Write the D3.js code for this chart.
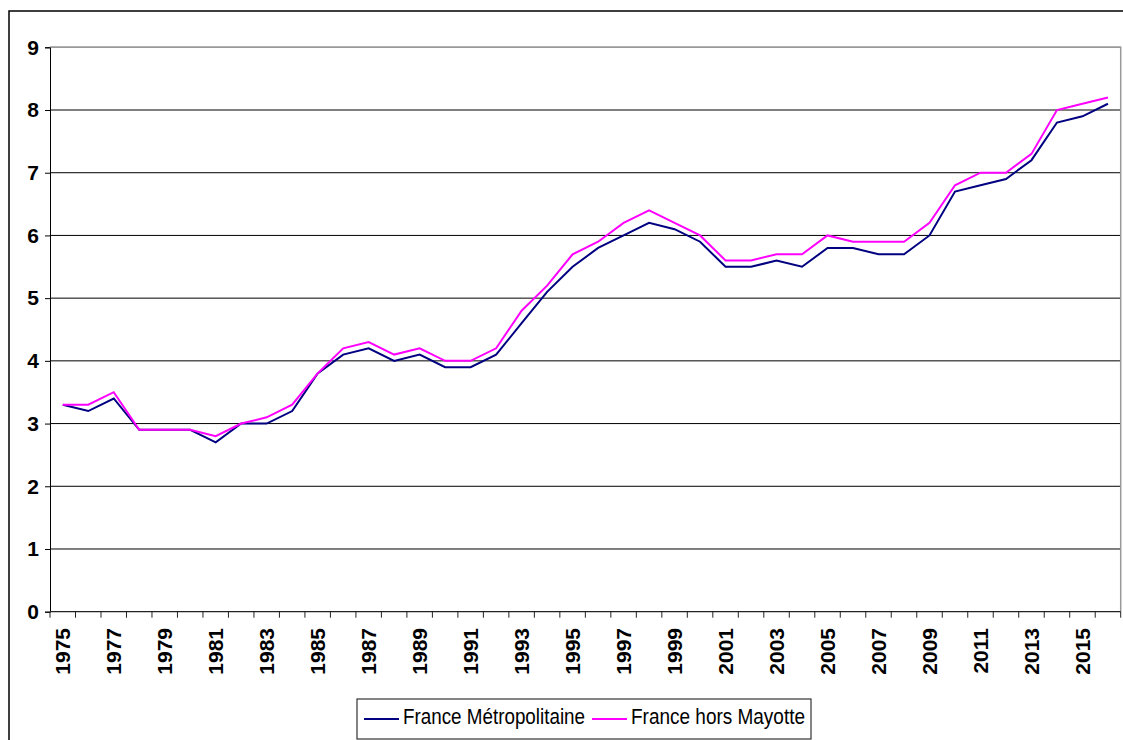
<!DOCTYPE html>
<html>
<head>
<meta charset="utf-8">
<script src="https://d3js.org/d3.v7.min.js"></script>
<style>
  body { margin: 0; background: #fff; }
  text { font-family: "Liberation Sans", Arial, sans-serif; }
</style>
</head>
<body>
<div id="vis-container"></div>
<script>
// data
const years = d3.range(1975, 2017);
const metropole = [3.3, 3.2, 3.4, 2.9, 2.9, 2.9, 2.7, 3.0, 3.0, 3.2,
                   3.8, 4.1, 4.2, 4.0, 4.1, 3.9, 3.9, 4.1, 4.6, 5.1,
                   5.5, 5.8, 6.0, 6.2, 6.1, 5.9, 5.5, 5.5, 5.6, 5.5,
                   5.8, 5.8, 5.7, 5.7, 6.0, 6.7, 6.8, 6.9, 7.2, 7.8,
                   7.9, 8.1];
const horsMayotte = [3.3, 3.3, 3.5, 2.9, 2.9, 2.9, 2.8, 3.0, 3.1, 3.3,
                     3.8, 4.2, 4.3, 4.1, 4.2, 4.0, 4.0, 4.2, 4.8, 5.2,
                     5.7, 5.9, 6.2, 6.4, 6.2, 6.0, 5.6, 5.6, 5.7, 5.7,
                     6.0, 5.9, 5.9, 5.9, 6.2, 6.8, 7.0, 7.0, 7.3, 8.0,
                     8.1, 8.2];
const yTicks = [0, 1, 2, 3, 4, 5, 6, 7, 8, 9];
const seriesNames = ["France Métropolitaine", "France hors Mayotte"];
const seriesColors = ["#000080", "#ff00ff"];

// Set dimensions
const width = 1123;
const height = 740;
const plot = { left: 50, right: 1120.7, top: 47.3, bottom: 611.7 };

const svg = d3.select("#vis-container")
              .append("svg")
              .attr("width", width)
              .attr("height", height);

// outer chart border (runs off the right and bottom of the picture)
svg.append("rect")
   .attr("x", 9).attr("y", 11)
   .attr("width", 1130).attr("height", 740)
   .attr("fill", "none")
   .attr("stroke", "#000")
   .attr("stroke-width", 1.5);

// scales
const x = d3.scaleBand()
            .domain(years)
            .range([plot.left, plot.right]);

const y = d3.scaleLinear()
            .domain([0, 9])
            .range([plot.bottom, plot.top]);

// gridlines
svg.append("g")
   .selectAll("line")
   .data(yTicks.slice(1))
   .join("line")
     .attr("x1", plot.left)
     .attr("x2", plot.right)
     .attr("y1", d => y(d))
     .attr("y2", d => y(d))
     .attr("stroke", "#000")
     .attr("stroke-width", 1);

// plot area border top + right (gray)
svg.append("path")
   .attr("d", `M${plot.left},${y(9)}H${plot.right}V${plot.bottom}`)
   .attr("fill", "none")
   .attr("stroke", "#999")
   .attr("stroke-width", 1.5);

// y axis
svg.append("g")
   .attr("transform", `translate(${plot.left},0)`)
   .call(d3.axisLeft(y).tickValues(yTicks).tickSize(5).tickPadding(6))
   .call(g => g.select(".domain").attr("stroke", "#000"))
   .call(g => g.selectAll("text")
               .attr("font-family", "Liberation Sans, Arial, sans-serif")
               .attr("font-size", "21px")
               .attr("font-weight", "bold")
               .attr("fill", "#000"));

// x axis line and tick marks between categories
const boundaries = years.map(d => x(d)).concat([plot.right]);
svg.append("line")
   .attr("x1", plot.left).attr("x2", plot.right)
   .attr("y1", plot.bottom).attr("y2", plot.bottom)
   .attr("stroke", "#222")
   .attr("stroke-width", 1.2);

svg.append("g")
   .selectAll("line")
   .data(boundaries)
   .join("line")
     .attr("x1", d => d).attr("x2", d => d)
     .attr("y1", plot.bottom).attr("y2", plot.bottom + 6)
     .attr("stroke", "#222");

// x labels, every second year, rotated
svg.append("g")
   .selectAll("text")
   .data(years.filter((d, i) => i % 2 === 0))
   .join("text")
     .attr("transform", d => `translate(${x(d) + x.bandwidth() / 2},628) rotate(-90)`)
     .attr("dy", "0.36em")
     .attr("text-anchor", "end")
     .attr("font-size", "21px")
     .attr("font-weight", "bold")
     .text(d => d);

// lines
const line = d3.line()
               .x((d, i) => x(years[i]) + x.bandwidth() / 2)
               .y(d => y(d));

[metropole, horsMayotte].forEach((s, i) => {
  svg.append("path")
     .datum(s)
     .attr("d", line)
     .attr("fill", "none")
     .attr("stroke", seriesColors[i])
     .attr("stroke-width", 2)
     .attr("stroke-linejoin", "miter");
});

// legend
const legend = svg.append("g");
legend.append("rect")
      .attr("x", 357).attr("y", 699)
      .attr("width", 454).attr("height", 40)
      .attr("fill", "#fff")
      .attr("stroke", "#333")
      .attr("stroke-width", 1.2);

const legendX = [364, 592];
const legendLen = [182, 174];
seriesNames.forEach((name, i) => {
  legend.append("line")
        .attr("x1", legendX[i]).attr("x2", legendX[i] + 35)
        .attr("y1", 719).attr("y2", 719)
        .attr("stroke", seriesColors[i])
        .attr("stroke-width", 2);
  legend.append("text")
        .attr("x", legendX[i] + 39)
        .attr("y", 724)
        .attr("font-size", "22px")
        .attr("textLength", legendLen[i])
        .attr("lengthAdjust", "spacingAndGlyphs")
        .text(name);
});
</script>
</body>
</html>
